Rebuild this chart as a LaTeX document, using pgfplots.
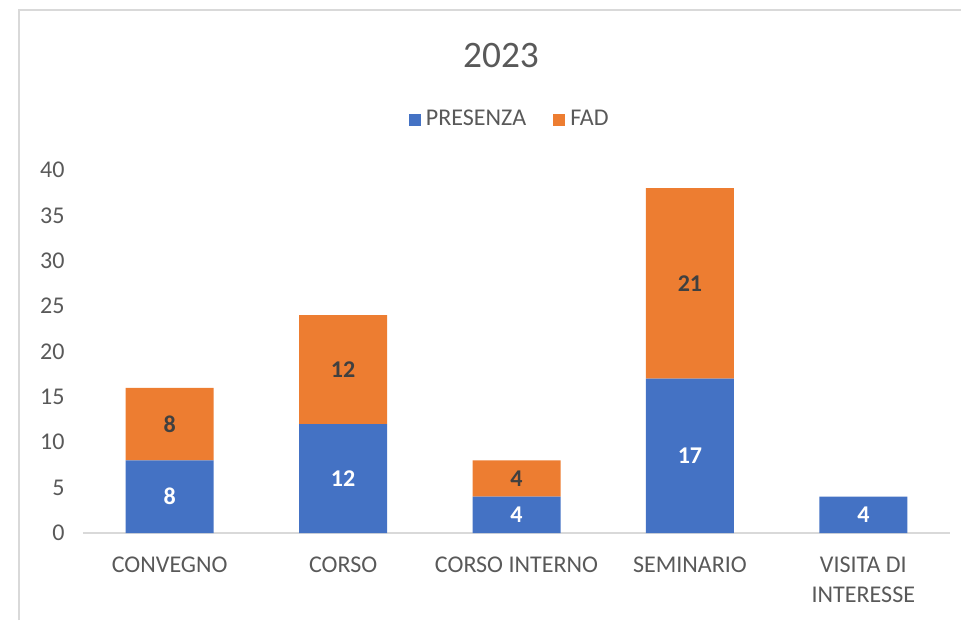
\documentclass[border=0pt]{standalone}
\usepackage{pgfplots}
\pgfplotsset{compat=1.18}
\usepackage{fontspec}
\setmainfont{Carlito}
\definecolor{cblue}{HTML}{4472C4}
\definecolor{corange}{HTML}{ED7D31}
\definecolor{ctext}{HTML}{595959}
\definecolor{cgrid}{HTML}{D9D9D9}
\definecolor{cdark}{HTML}{404040}
\def\px{0.3746pt}
\begin{document}
\begin{tikzpicture}
\path[use as bounding box] (0,0) rectangle ({961*\px},{-620*\px});
\draw[cgrid, line width=0.8pt] ({19*\px},{-620*\px}) -- ({19*\px},{-10*\px}) -- ({961*\px},{-10*\px});
\node[text=ctext, font=\fontsize{14}{17}\selectfont] at ({501*\px},{-55*\px}) {2023};
\begin{axis}[
  at={({83*\px},{-533*\px})}, anchor=south west,
  scale only axis, width=324.8pt, height=136pt,
  ybar stacked, bar width=32.96pt,
  xmin=-0.5, xmax=4.5, ymin=0, ymax=40,
  xtick={0,1,2,3,4},
  xticklabels={CONVEGNO, CORSO, CORSO INTERNO, SEMINARIO, {VISITA DI\\INTERESSE}},
  ytick={0,5,...,40},
  /pgf/number format/assume math mode=true,
  tick style={draw=none},
  axis x line*=bottom, axis y line*=left,
  x axis line style={cgrid, line width=0.75pt, -},
  y axis line style={draw=none},
  xticklabel style={align=center, text=ctext, font=\fontsize{9}{11.2}\selectfont, anchor=north, yshift=-5.6pt},
  yticklabel style={text=ctext, font=\fontsize{9}{11}\selectfont, xshift=-3.4pt},
  legend style={at={(0.494,1.138)}, anchor=center, draw=none, legend columns=2,
    font=\fontsize{9}{11}\selectfont, text=ctext,
    /tikz/every even column/.append style={column sep=8pt}},
  legend image code/.code={\fill[#1] (0pt,-2.25pt) rectangle (4.5pt,2.25pt);},
  nodes near coords, point meta=explicit symbolic,
  every node near coord/.append style={anchor=center, font=\bfseries\fontsize{9}{11}\selectfont},
]
\addplot[fill=cblue, draw=none, every node near coord/.append style={text=white}] coordinates {(0,8)[8] (1,12)[12] (2,4)[4] (3,17)[17] (4,4)[4]};
\addplot[fill=corange, draw=none, every node near coord/.append style={text=cdark}] coordinates {(0,8)[8] (1,12)[12] (2,4)[4] (3,21)[21]};
\legend{PRESENZA, FAD}
\end{axis}
\end{tikzpicture}
\end{document}
